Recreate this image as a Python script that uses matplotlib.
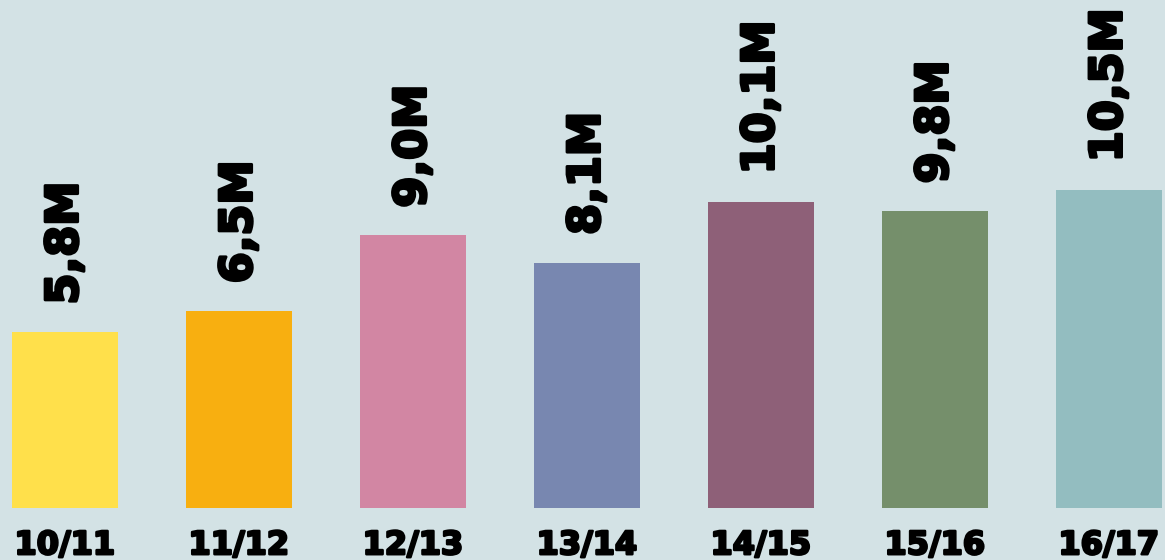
import matplotlib.pyplot as plt
import matplotlib.patheffects as pe
import numpy as np

seasons = ['10/11', '11/12', '12/13', '13/14', '14/15', '15/16', '16/17']
values = [5.8, 6.5, 9.0, 8.1, 10.1, 9.8, 10.5]
labels = ['5,8M', '6,5M', '9,0M', '8,1M', '10,1M', '9,8M', '10,5M']
colors = ['#FFE04B', '#F8AF10', '#D286A3', '#7887B0', '#8E6078', '#758F6B', '#93BDC0']

bg = '#D3E2E5'
heavy = [pe.withStroke(linewidth=2.2, foreground='black')]

fig = plt.figure(figsize=(11.65, 5.6), dpi=100, facecolor=bg)
ax = fig.add_axes([0, 52 / 560, 1, 508 / 560])
ax.set_facecolor(bg)

x = np.arange(len(values))
ax.bar(x, values, width=0.61, color=colors)

for xi, v, lab in zip(x, values, labels):
    ax.annotate(lab, (xi, v), xytext=(0, 20), textcoords='offset points',
                rotation=90, ha='center', va='bottom',
                fontsize=32, fontweight='bold', family='DejaVu Sans', color='black',
                path_effects=heavy)

ax.set_xlim(-0.374, 6.322)
ax.set_ylim(0, 16.77)
ax.set_xticks(x)
ax.set_xticklabels(seasons, fontsize=23, fontweight='bold')
for t in ax.get_xticklabels():
    t.set_path_effects([pe.withStroke(linewidth=1.8, foreground='black')])
ax.tick_params(axis='x', length=0, pad=16)
ax.set_yticks([])
for s in ax.spines.values():
    s.set_visible(False)

fig.savefig('out.png', dpi=100, facecolor=bg)
